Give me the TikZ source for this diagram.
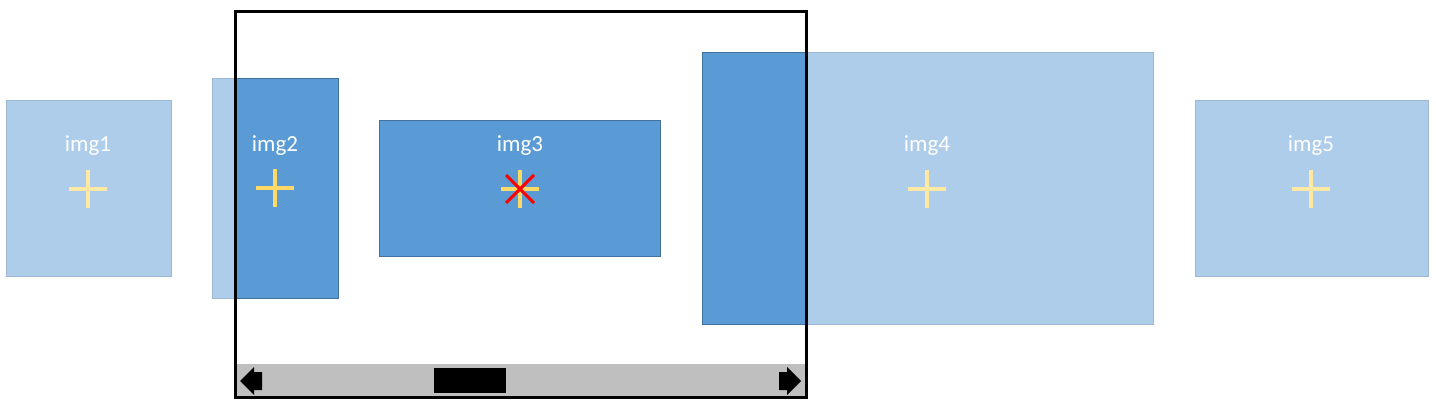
\documentclass[tikz,border=0pt]{standalone}
\usepackage{fontspec}
\setmainfont{Carlito}
\definecolor{darkb}{HTML}{5B9BD5}
\definecolor{darkbd}{HTML}{41719C}
\definecolor{lightb}{HTML}{AECDEA}
\definecolor{lightbd}{HTML}{9DB8D2}
\definecolor{yel}{HTML}{FFD966}
\definecolor{lyel}{HTML}{FFE8A3}
\definecolor{barg}{HTML}{BFBFBF}
\begin{document}
\begin{tikzpicture}[x=1pt,y=-1pt,
  lightimg/.style={draw=lightbd,fill=lightb,line width=1pt,inner sep=0pt,outer sep=0pt},
  darkimg/.style={draw=darkbd,fill=darkb,line width=1pt,inner sep=0pt,outer sep=0pt},
  lbl/.style={text=white,font=\fontsize{23}{26}\selectfont,inner sep=0pt},
  crossl/.style={draw=lyel,line width=4pt},
  crossd/.style={draw=yel,line width=4pt},
  redx/.style={draw=red,line width=3pt},
  viewframe/.style={draw=black,line width=3pt},
  arrowtip/.style={fill=black}]
\useasboundingbox (0,0) rectangle (1436,409);
\fill[white] (0,0) rectangle (1436,409);
% images (out of view: light)
\node[lightimg,minimum width=165pt,minimum height=175pt] (i1) at (88.5,188.5) {};
\node[lightimg,minimum width=126pt,minimum height=219pt] (i2) at (275,188.5) {};
\node[lightimg,minimum width=281pt,minimum height=135pt] (i3) at (519.5,188.5) {};
\node[lightimg,minimum width=451pt,minimum height=271pt] (i4) at (927.5,188.5) {};
\node[lightimg,minimum width=233pt,minimum height=175pt] (i5) at (1311.5,188.5) {};
% in view: dark
\begin{scope}
\clip (235,12) rectangle (806,397);
\node[darkimg,minimum width=126pt,minimum height=219pt] (d2) at (275,188.5) {};
\node[darkimg,minimum width=281pt,minimum height=135pt] (d3) at (519.5,188.5) {};
\node[darkimg,minimum width=451pt,minimum height=271pt] (d4) at (927.5,188.5) {};
\end{scope}
% labels
\node[lbl] (l1) at (88,146) {img1};
\node[lbl] (l2) at (275,146) {img2};
\node[lbl] (l3) at (520,146) {img3};
\node[lbl] (l4) at (927,146) {img4};
\node[lbl] (l5) at (1311,146) {img5};
% crosses
\coordinate (c1) at (88,189);
\coordinate (c2) at (275,188);
\coordinate (c3) at (520,189);
\coordinate (c4) at (927,189);
\coordinate (c5) at (1311,189);
\draw[crossl] (c1) ++(-19,0) -- ++(38,0) (c1) ++(0,-19) -- ++(0,38);
\draw[crossd] (c2) ++(-19,0) -- ++(38,0) (c2) ++(0,-19) -- ++(0,38);
\draw[crossd] (c3) ++(-19,0) -- ++(38,0) (c3) ++(0,-19) -- ++(0,38);
\draw[crossl] (c4) ++(-19,0) -- ++(38,0) (c4) ++(0,-19) -- ++(0,38);
\draw[crossl] (c5) ++(-19,0) -- ++(38,0) (c5) ++(0,-19) -- ++(0,38);
\draw[redx] (c3) ++(-14,-14) -- ++(28,28) (c3) ++(14,-14) -- ++(-28,28);
% scroll bar
\fill[barg] (235,364) rectangle (806,396);
\node[fill=black,inner sep=0pt,minimum width=72pt,minimum height=25pt] (thumb) at (470,380.5) {};
\fill[arrowtip] (240,381) -- (254,367) -- (254,372) -- (262,372) -- (262,390) -- (254,390) -- (254,395) -- cycle;
\fill[arrowtip] (801,381) -- (787,367) -- (787,372) -- (779,372) -- (779,390) -- (787,390) -- (787,395) -- cycle;
% viewport
\node[viewframe,minimum width=571pt,minimum height=385pt,inner sep=0pt] (view) at (520.5,204.5) {};
\end{tikzpicture}
\end{document}
